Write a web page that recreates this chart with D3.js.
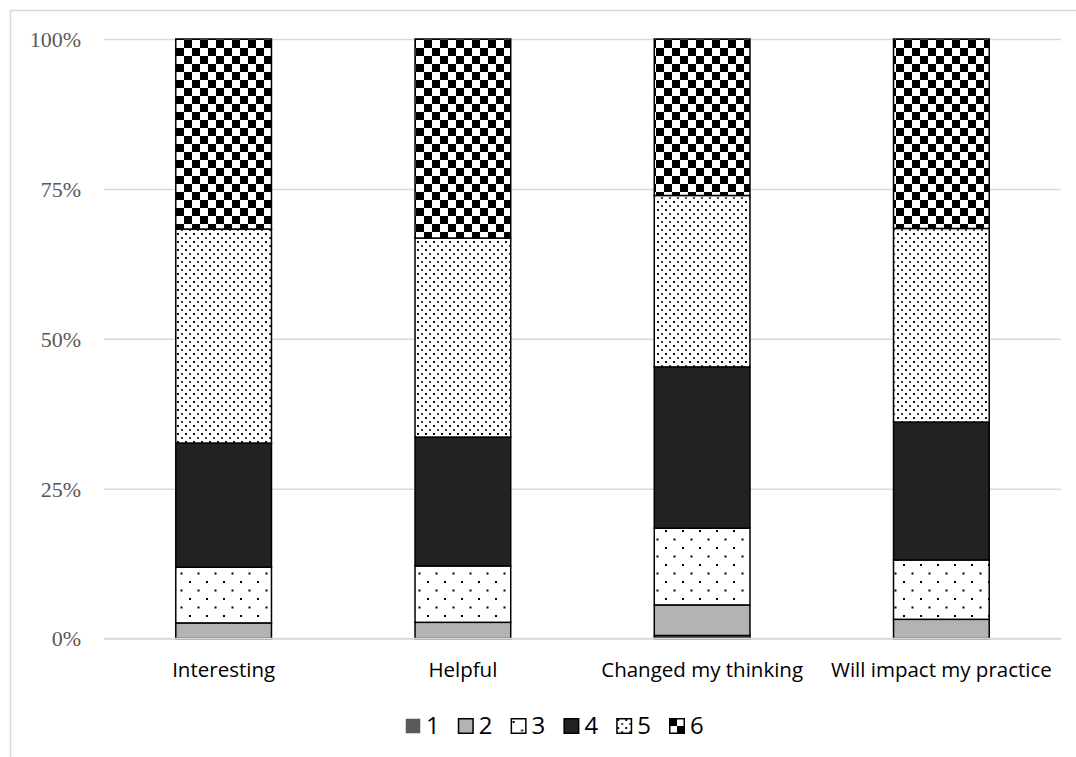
<!DOCTYPE html>
<html>
<head>
<meta charset="utf-8">
<script src="https://cdn.jsdelivr.net/npm/d3@7"></script>
<style>
  html, body { margin: 0; padding: 0; background: #fff; }
  svg { display: block; }
</style>
</head>
<body>
<svg id="chart" width="1076" height="757"></svg>
<script>
// Survey categories and rating levels
const categories = ["Interesting", "Helpful", "Changed my thinking", "Will impact my practice"];
const levels = ["1", "2", "3", "4", "5", "6"];

// Share of responses (%) per rating, one array per rating level
const rating1 = [0, 0, 0.5, 0];
const rating2 = [2.6, 2.7, 5.1, 3.2];
const rating3 = [9.3, 9.4, 12.8, 9.9];
const rating4 = [20.7, 21.5, 26.9, 23.0];
const rating5 = [35.7, 33.2, 28.6, 32.3];
const rating6 = [31.7, 33.2, 26.1, 31.6];

const yTicks = [0, 25, 50, 75, 100];
const yTickLabels = ["0%", "25%", "50%", "75%", "100%"];

const seriesValues = [rating1, rating2, rating3, rating4, rating5, rating6];
const rows = categories.map((c, i) => {
  const r = { category: c };
  levels.forEach((l, k) => { r[l] = seriesValues[k][i]; });
  return r;
});

const svg = d3.select("#chart");
const defs = svg.append("defs");

// Fill patterns
// sparse staggered dots (rating 3)
const p3 = defs.append("pattern").attr("id", "pat3").attr("patternUnits", "userSpaceOnUse")
  .attr("width", 17).attr("height", 17);
p3.append("rect").attr("width", 17).attr("height", 17).attr("fill", "#fff");
p3.append("rect").attr("x", 2).attr("y", 3).attr("width", 2).attr("height", 2).attr("fill", "#000");
p3.append("rect").attr("x", 10.5).attr("y", 11.5).attr("width", 2).attr("height", 2).attr("fill", "#000");

// dense staggered dots (rating 5)
const p5 = defs.append("pattern").attr("id", "pat5").attr("patternUnits", "userSpaceOnUse")
  .attr("width", 8).attr("height", 8);
p5.append("rect").attr("width", 8).attr("height", 8).attr("fill", "#fff");
p5.append("rect").attr("x", 1).attr("y", 1).attr("width", 2).attr("height", 2).attr("fill", "#111");
p5.append("rect").attr("x", 5).attr("y", 5).attr("width", 2).attr("height", 2).attr("fill", "#444");

// checkerboard (rating 6)
const p6 = defs.append("pattern").attr("id", "pat6").attr("patternUnits", "userSpaceOnUse")
  .attr("width", 16).attr("height", 16);
p6.append("rect").attr("width", 16).attr("height", 16).attr("fill", "#fff");
p6.append("rect").attr("x", 0).attr("y", 0).attr("width", 8).attr("height", 8).attr("fill", "#000");
p6.append("rect").attr("x", 8).attr("y", 8).attr("width", 8).attr("height", 8).attr("fill", "#000");

const fills = {
  "1": "#595959",
  "2": "#b3b3b3",
  "3": "url(#pat3)",
  "4": "#222222",
  "5": "url(#pat5)",
  "6": "url(#pat6)"
};

// Chart frame
svg.append("rect").attr("x", 10.5).attr("y", 10.5).attr("width", 1100).attr("height", 800)
  .attr("fill", "none").attr("stroke", "#d9d9d9").attr("stroke-width", 1.5);

const plot = { left: 104, right: 1061, top: 39, bottom: 638.5 };

const x = d3.scaleBand().domain(categories).range([plot.left, plot.right]).paddingInner(0.6).paddingOuter(0.3);
const y = d3.scaleLinear().domain([0, 100]).range([plot.bottom, plot.top]);

// Gridlines and y labels
const yAxis = d3.axisLeft(y).tickValues(yTicks).tickSize(-(plot.right - plot.left))
  .tickFormat((d, i) => yTickLabels[i]).tickPadding(23);
const gy = svg.append("g").attr("transform", `translate(${plot.left},0)`).call(yAxis);
gy.select(".domain").remove();
gy.selectAll(".tick line").attr("stroke", "#d9d9d9").attr("stroke-width", 1.5);
gy.selectAll(".tick text").attr("fill", "#595959").attr("dy", "0.34em")
  .style("font-family", "'Liberation Serif', 'Times New Roman', serif").style("font-size", "22px");

// Stacked bars
const stack = d3.stack().keys(levels);
const stacked = stack(rows);

const layers = svg.append("g").selectAll("g").data(stacked).join("g")
  .attr("fill", d => fills[d.key]);
layers.selectAll("rect").data(d => d).join("rect")
  .attr("x", d => x(d.data.category))
  .attr("width", x.bandwidth())
  .attr("y", d => y(d[1]))
  .attr("height", d => Math.max(0, y(d[0]) - y(d[1])))
  .attr("stroke", "#000").attr("stroke-width", 1.5);

// Category labels
const gx = svg.append("g").attr("transform", `translate(0,${plot.bottom})`)
  .call(d3.axisBottom(x).tickSize(0).tickPadding(31));
gx.select(".domain").attr("stroke", "#d9d9d9").attr("stroke-width", 1.5)
  .attr("d", `M${plot.left},0H${plot.right}`);
gx.selectAll(".tick text").attr("fill", "#000").attr("dy", "0.35em")
  .style("font-family", "'Open Sans', 'Noto Sans', sans-serif").style("font-size", "20.5px");

// Legend
const legend = svg.append("g").attr("transform", "translate(405,718)");
const item = legend.selectAll("g").data(levels).join("g")
  .attr("transform", (d, i) => `translate(${i * 52.8},0)`);
item.append("rect").attr("x", 0.75).attr("y", 0.75).attr("width", 14.5).attr("height", 14.5)
  .attr("fill", d => fills[d])
  .attr("stroke", d => d === "1" ? "none" : "#000").attr("stroke-width", 1.5);
item.append("text").attr("x", 21).attr("y", 16).text(d => d)
  .attr("fill", "#000")
  .style("font-family", "'Open Sans', 'Noto Sans', sans-serif").style("font-size", "24px");
</script>
</body>
</html>
